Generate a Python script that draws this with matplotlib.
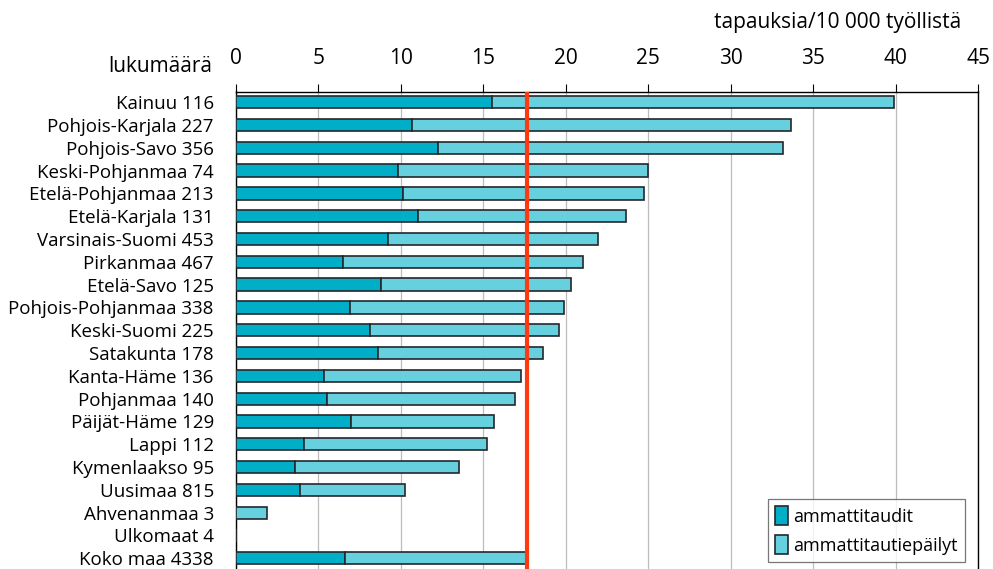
import matplotlib
matplotlib.use("Agg")
import matplotlib.pyplot as plt
from matplotlib.patches import Patch

regions = ["Kainuu 116", "Pohjois-Karjala 227", "Pohjois-Savo 356", "Keski-Pohjanmaa 74",
           "Etelä-Pohjanmaa 213", "Etelä-Karjala 131", "Varsinais-Suomi 453", "Pirkanmaa 467",
           "Etelä-Savo 125", "Pohjois-Pohjanmaa 338", "Keski-Suomi 225", "Satakunta 178",
           "Kanta-Häme 136", "Pohjanmaa 140", "Päijät-Häme 129", "Lappi 112",
           "Kymenlaakso 95", "Uusimaa 815", "Ahvenanmaa 3", "Ulkomaat 4", "Koko maa 4338"]
ammattitaudit = [15.5, 10.7, 12.25, 9.8, 10.1, 11.05, 9.2, 6.5, 8.8, 6.9, 8.1, 8.6,
                 5.35, 5.5, 7.0, 4.1, 3.6, 3.9, 0.0, 0.0, 6.6]
epailyt = [24.4, 22.95, 20.9, 15.18, 14.65, 12.63, 12.77, 14.52, 11.49, 13.0, 11.48, 10.03,
           11.95, 11.41, 8.66, 11.14, 9.9, 6.36, 1.9, 0.0, 11.05]
koko_maa_rate = 17.65
xticks = [0, 5, 10, 15, 20, 25, 30, 35, 40, 45]

dark = "#00AEC8"
light = "#66D0DF"
edge = "#23282c"
font = "Open Sans"
plt.rcParams['font.family'] = [font, 'DejaVu Sans']

W, H = 993, 569
fig = plt.figure(figsize=(W / 100, H / 100), dpi=100)
left, right, top, bottom = 236, 978, 91.5, 569
ax = fig.add_axes([left / W, 1 - bottom / H, (right - left) / W, (bottom - top) / H])

y = list(range(len(regions)))
ax.barh(y, ammattitaudit, height=0.54, color=dark, edgecolor=edge, linewidth=1.2, zorder=3)
ax.barh(y, epailyt, left=ammattitaudit, height=0.54, color=light, edgecolor=edge,
        linewidth=1.2, zorder=3)
ax.axvline(koko_maa_rate, color="#FF3A10", linewidth=3.0, zorder=4)

ax.set_xlim(0, 45)
ax.set_ylim(20.47, -0.47)
ax.set_xticks(xticks)
ax.xaxis.tick_top()
ax.tick_params(axis='x', which='both', direction='out', length=6, width=0.8,
               color='black', labelsize=15, pad=10)
ax.set_yticks(y)
ax.set_yticklabels(regions, fontsize=13.5)
ax.tick_params(axis='y', length=0, pad=16)
ax.grid(axis='x', color='#BDBDBD', linewidth=0.9, zorder=0)
ax.set_axisbelow(True)
for s in ['top', 'left', 'right']:
    ax.spines[s].set_color('black')
    ax.spines[s].set_linewidth(1.0)
ax.spines['bottom'].set_visible(False)

fig.text(212 / W, 1 - 72 / H, "lukumäärä", ha='right', va='baseline', fontsize=15)
fig.text(961 / W, 1 - 28 / H, "tapauksia/10 000 työllistä", ha='right', va='baseline',
         fontsize=15)

handles = [Patch(facecolor=dark, edgecolor=edge, linewidth=1.2, label="ammattitaudit"),
           Patch(facecolor=light, edgecolor=edge, linewidth=1.2, label="ammattitautiepäilyt")]
leg = ax.legend(handles=handles, loc='lower right', bbox_to_anchor=(965 / W, 1 - 562 / H),
                bbox_transform=fig.transFigure, fontsize=13, frameon=True, fancybox=False,
                edgecolor='#555555', handlelength=0.7, handleheight=1.2, handletextpad=0.3,
                labelspacing=0.55, borderpad=0.4, borderaxespad=0)
leg.get_frame().set_linewidth(0.9)
leg.set_zorder(10)

fig.savefig("out.png", dpi=100)
